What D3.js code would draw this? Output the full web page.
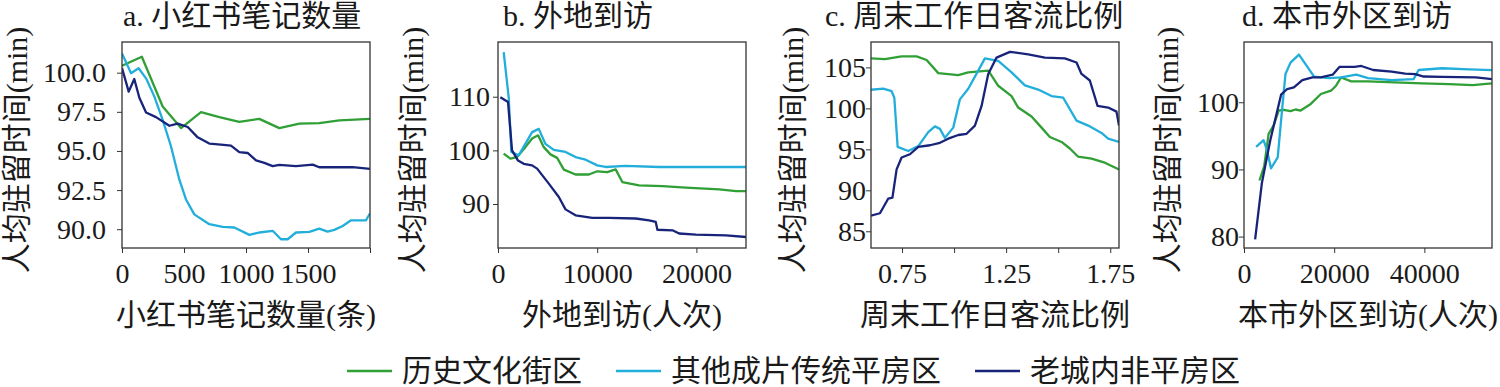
<!DOCTYPE html>
<html>
<head>
<meta charset="utf-8">
<script src="https://cdn.jsdelivr.net/npm/d3@7"></script>
<style>
  body { margin: 0; background: #fff; }
  text { font-family: "Liberation Serif", "Noto Sans CJK SC", serif; fill: #1a1a1a; }
</style>
</head>
<body>
<svg id="chart" width="1500" height="387"></svg>
<script>
// series shared by all four panels
const seriesNames = ["历史文化街区", "其他成片传统平房区", "老城内非平房区"];
const seriesColors = ["#2f9f36", "#22aedb", "#18247a"];

const panelTitles = ["a. 小红书笔记数量", "b. 外地到访", "c. 周末工作日客流比例", "d. 本市外区到访"];
const xLabels = ["小红书笔记数量(条)", "外地到访(人次)", "周末工作日客流比例", "本市外区到访(人次)"];
const yLabel = "人均驻留时间(min)";

// tick values per panel
const notesXTicks = [0, 500, 1000, 1500, 2000];
const notesYTicks = [90, 92.5, 95, 97.5, 100];
const outsideXTicks = [0, 10000, 20000];
const outsideYTicks = [90, 100, 110];
const ratioXTicks = [0.75, 1.0, 1.25, 1.5, 1.75];
const ratioXLabelled = [0.75, 1.25, 1.75];
const ratioYTicks = [85, 90, 95, 100, 105];
const cityXTicks = [0, 20000, 40000];
const cityYTicks = [80, 90, 100];

// a. 小红书笔记数量
const notesHistoric = [[0, 100.45], [160, 101.02], [328, 97.84], [476, 96.46], [637, 97.48], [785, 97.16], [946, 96.86],
  [1107, 97.05], [1269, 96.46], [1430, 96.74], [1591, 96.78], [1753, 96.95], [2000, 97.05]];
const notesBungalow = [[0, 101.23], [73, 99.96], [134, 100.28], [194, 99.64], [261, 98.47], [328, 96.99], [395, 95.3],
  [462, 93.18], [516, 91.9], [583, 90.95], [704, 90.32], [812, 90.15], [906, 90.11], [1027, 89.64], [1107, 89.79],
  [1215, 89.9], [1282, 89.36], [1336, 89.36], [1403, 89.79], [1511, 89.83], [1591, 90.04], [1658, 89.85],
  [1712, 89.96], [1780, 90.21], [1847, 90.57], [1968, 90.57], [2000, 91.02]];
const notesOldCity = [[0, 100.3], [54, 98.79], [99, 99.6], [140, 98.4], [194, 97.46], [274, 97.16], [382, 96.61],
  [449, 96.74], [530, 96.53], [610, 95.87], [704, 95.47], [798, 95.4], [879, 95.34], [946, 94.92], [1013, 94.87],
  [1081, 94.4], [1148, 94.24], [1215, 94.03], [1269, 94.11], [1403, 94.03], [1538, 94.13], [1591, 93.96],
  [1860, 93.96], [2000, 93.86]];

// b. 外地到访
const outsideHistoric = [[573, 99.4], [1247, 98.45], [1920, 98.76], [2763, 100.6], [3436, 102.2], [4043, 102.8],
  [4616, 100.6], [5289, 99.25], [5963, 98.6], [6637, 96.4], [7816, 95.5], [9164, 95.5], [10006, 96.1],
  [11017, 95.96], [11859, 96.46], [12533, 94.1], [14217, 93.48], [16576, 93.35], [18934, 93.04], [22303, 92.73],
  [23988, 92.42], [25000, 92.42]];
const outsideBungalow = [[573, 118.3], [1078, 109.9], [1348, 99.7], [2089, 99.07], [3436, 103.4], [4110, 104.0],
  [4784, 101.2], [5626, 100.1], [6805, 99.7], [7816, 98.76], [8827, 98.26], [10006, 97.2], [10848, 96.9],
  [12870, 97.1], [16240, 96.9], [19600, 96.9], [25000, 96.9]];
const outsideOldCity = [[236, 109.9], [1011, 109.0], [1415, 100.0], [2021, 98.1], [2594, 97.5], [3436, 97.2],
  [3942, 96.6], [5121, 93.8], [6132, 91.3], [6805, 89.0], [7816, 87.9], [9501, 87.4], [11185, 87.4],
  [13880, 87.3], [15228, 86.96], [15902, 86.65], [16070, 85.2], [17586, 85.1], [18260, 84.5], [19944, 84.3],
  [22976, 84.16], [25000, 83.85]];

// c. 周末工作日客流比例
const ratioHistoric = [[0.601, 106.1], [0.668, 106.0], [0.748, 106.35], [0.82, 106.35], [0.868, 105.9], [0.924, 104.3],
  [1.02, 104.06], [1.068, 104.4], [1.164, 104.6], [1.18, 104.0], [1.212, 102.76], [1.276, 101.5], [1.308, 100.1],
  [1.372, 99.0], [1.42, 97.65], [1.46, 96.5], [1.516, 95.9], [1.556, 95.1], [1.596, 94.1], [1.66, 93.86],
  [1.724, 93.37], [1.792, 92.55]];
const ratioBungalow = [[0.601, 102.27], [0.66, 102.4], [0.70, 102.1], [0.713, 101.3], [0.729, 95.3], [0.78, 94.8],
  [0.828, 95.4], [0.876, 97.1], [0.908, 97.8], [0.932, 97.5], [0.956, 96.4], [0.996, 97.65], [1.028, 101.1],
  [1.068, 102.4], [1.116, 104.6], [1.148, 106.1], [1.212, 105.8], [1.276, 104.4], [1.34, 102.8], [1.404, 102.3],
  [1.468, 101.5], [1.524, 101.3], [1.588, 98.5], [1.644, 97.9], [1.708, 97.0], [1.74, 96.3], [1.792, 95.9]];
const ratioOldCity = [[0.601, 86.9], [0.644, 87.2], [0.684, 89.0], [0.704, 89.1], [0.724, 92.55], [0.748, 94.0],
  [0.788, 94.4], [0.828, 95.3], [0.884, 95.5], [0.932, 95.8], [0.972, 96.3], [1.02, 96.75], [1.06, 96.9],
  [1.10, 97.9], [1.132, 100.3], [1.164, 104.2], [1.204, 106.2], [1.268, 106.9], [1.356, 106.6], [1.436, 106.2],
  [1.532, 106.1], [1.588, 105.6], [1.612, 104.2], [1.652, 103.4], [1.689, 100.3], [1.74, 100.1], [1.78, 99.6],
  [1.792, 97.9]];

// d. 本市外区到访
const cityHistoric = [[3439, 88.35], [4486, 90.5], [5458, 95.3], [6580, 96.56], [7701, 98.77], [8823, 98.87],
  [10318, 98.67], [11440, 98.92], [12562, 98.77], [14805, 99.75], [17048, 101.23], [19291, 101.72],
  [20413, 102.46], [21534, 103.69], [23777, 103.1], [27515, 103.1], [33496, 102.95], [39478, 102.8],
  [45459, 102.7], [50693, 102.56], [55000, 102.8]];
const cityBungalow = [[2692, 93.37], [4337, 94.35], [5084, 92.9], [5982, 90.17], [7477, 91.8], [8224, 97.3],
  [9196, 104.2], [10318, 105.9], [12187, 107.1], [13683, 105.65], [15552, 103.8], [18917, 103.6], [21534, 103.7],
  [24898, 104.1], [27515, 103.6], [32749, 103.3], [37609, 103.45], [38731, 104.8], [43965, 105.06],
  [49946, 104.9], [55000, 104.77]];
const cityOldCity = [[2467, 79.6], [3963, 87.96], [5832, 94.35], [8224, 101.13], [9570, 101.97], [11066, 102.21],
  [12935, 103.3], [15178, 103.7], [17048, 103.7], [19665, 104.1], [21161, 105.26], [24525, 105.26],
  [26021, 105.4], [28637, 104.8], [32749, 104.57], [35740, 104.27], [37983, 104.2], [39852, 103.83],
  [43965, 103.78], [51441, 103.7], [55000, 103.44]];

const svg = d3.select("#chart");
const plotTop = 42, plotHeight = 206, plotWidth = 248;

const panels = [
  { left: 122, xDomain: [0, 2000], yDomain: [88.8, 101.96], xTicks: notesXTicks, yTicks: notesYTicks,
    xFmt: d => d === 2000 ? "" : d3.format("d")(d), yFmt: d3.format(".1f"), yPad: 11,
    titleX: 123, yLabelX: -106, lines: [notesHistoric, notesBungalow, notesOldCity] },
  { left: 498, xDomain: [0, 25000], yDomain: [81.8, 120.2], xTicks: outsideXTicks, yTicks: outsideYTicks,
    xFmt: d3.format("d"), yFmt: d3.format("d"), yPad: 3,
    titleX: 503, yLabelX: -86, lines: [outsideHistoric, outsideBungalow, outsideOldCity] },
  { left: 871, xDomain: [0.601, 1.792], yDomain: [82.96, 108.1], xTicks: ratioXTicks, yTicks: ratioYTicks,
    xFmt: d => ratioXLabelled.includes(d) ? d3.format(".2f")(d) : "", yFmt: d3.format("d"), yPad: 0,
    titleX: 825, yLabelX: -79, lines: [ratioHistoric, ratioBungalow, ratioOldCity] },
  { left: 1244, xDomain: [0, 55000], yDomain: [78.3, 108.97], xTicks: cityXTicks, yTicks: cityYTicks,
    xFmt: d3.format("d"), yFmt: d3.format("d"), yPad: 0,
    titleX: 1242, yLabelX: -77, lines: [cityHistoric, cityBungalow, cityOldCity] }
];

panels.forEach((p, i) => {
  const x = d3.scaleLinear().domain(p.xDomain).range([0, plotWidth]);
  const y = d3.scaleLinear().domain(p.yDomain).range([plotHeight, 0]);
  const g = svg.append("g").attr("transform", `translate(${p.left},${plotTop})`);

  g.append("clipPath").attr("id", `clip${i}`)
    .append("rect").attr("width", plotWidth).attr("height", plotHeight);

  // axes
  const xAxis = g.append("g").attr("transform", `translate(0,${plotHeight})`)
    .call(d3.axisBottom(x).tickValues(p.xTicks).tickFormat(p.xFmt).tickSize(5).tickPadding(10).tickSizeOuter(0));
  const yAxis = g.append("g")
    .call(d3.axisLeft(y).tickValues(p.yTicks).tickFormat(p.yFmt).tickSize(5).tickPadding(p.yPad).tickSizeOuter(0));
  [xAxis, yAxis].forEach(a => {
    a.select(".domain").remove();
    a.selectAll("line").attr("stroke", "#333");
    a.selectAll("text").style("font-size", "28px").attr("fill", "#1a1a1a");
  });

  // lines
  const line = d3.line().x(d => x(d[0])).y(d => y(d[1]));
  g.append("g").attr("clip-path", `url(#clip${i})`)
    .selectAll("path").data(p.lines).join("path")
    .attr("d", line)
    .attr("fill", "none")
    .attr("stroke", (d, k) => seriesColors[k])
    .attr("stroke-width", 2.3)
    .attr("stroke-linejoin", "round");

  // frame
  g.append("rect").attr("width", plotWidth).attr("height", plotHeight)
    .attr("fill", "none").attr("stroke", "#333").attr("stroke-width", 1.3);

  // title and labels
  svg.append("text").attr("x", p.titleX).attr("y", 26)
    .style("font-size", "30px").text(panelTitles[i]);
  g.append("text").attr("x", plotWidth / 2).attr("y", 325 - plotTop)
    .attr("text-anchor", "middle").style("font-size", "30px").text(xLabels[i]);
  g.append("text")
    .attr("transform", `translate(${p.yLabelX},${150 - plotTop}) rotate(-90)`)
    .attr("text-anchor", "middle").attr("dominant-baseline", "central")
    .style("font-size", "30px").text(yLabel);
});

// legend
const legend = svg.append("g").attr("transform", "translate(347,371)");
let lx = 0;
seriesNames.forEach((name, k) => {
  const item = legend.append("g").attr("transform", `translate(${lx},0)`);
  item.append("line").attr("x1", 0).attr("x2", 45).attr("y1", 0).attr("y2", 0)
    .attr("stroke", seriesColors[k]).attr("stroke-width", 2.5);
  const t = item.append("text").attr("x", 55).attr("y", 10).style("font-size", "30px").text(name);
  lx += 55 + t.node().getComputedTextLength() + 34;
});
</script>
</body>
</html>
